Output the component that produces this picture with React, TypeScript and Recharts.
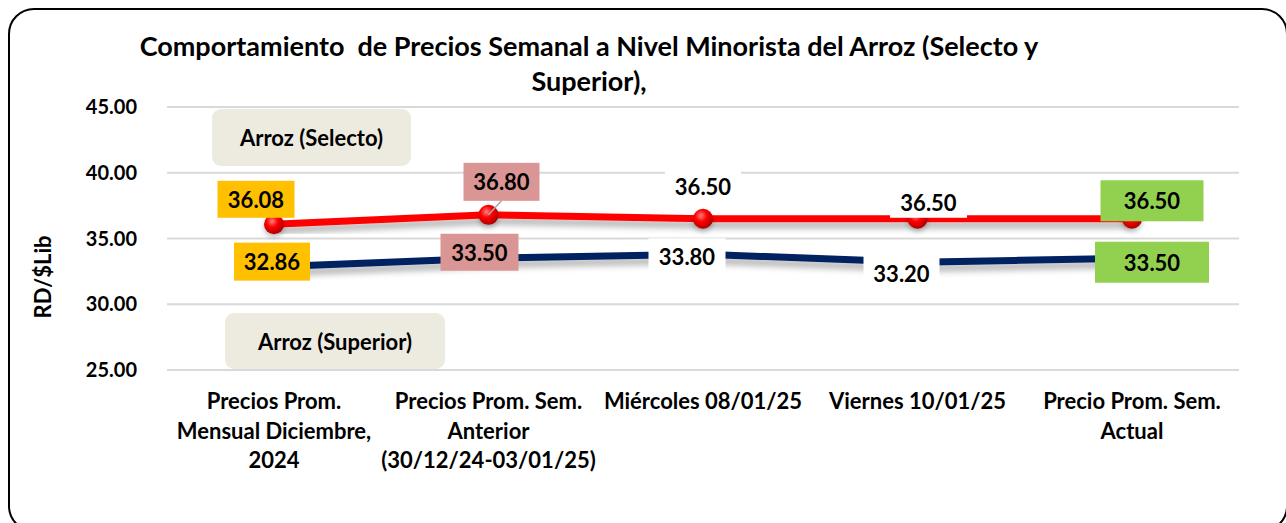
import React from 'react';
import { LineChart, Line, XAxis, YAxis, CartesianGrid, LabelList } from 'recharts';

const categories = [
  'Precios Prom.\nMensual Diciembre,\n2024',
  'Precios Prom. Sem.\nAnterior\n(30/12/24-03/01/25)',
  'Miércoles 08/01/25',
  'Viernes 10/01/25',
  'Precio Prom. Sem.\nActual',
];
const selecto = [36.08, 36.8, 36.5, 36.5, 36.5];
const superior = [32.86, 33.5, 33.8, 33.2, 33.5];
const yTicks = [25, 30, 35, 40, 45];
const titleLines = [
  'Comportamiento  de Precios Semanal a Nivel Minorista del Arroz (Selecto y',
  'Superior),',
];
const seriesNames = ['Arroz (Selecto)', 'Arroz (Superior)'];
const yAxisTitle = 'RD/$Lib';

const data = categories.map((c, i) => ({ cat: c, selecto: selecto[i], superior: superior[i] }));

const FONT = 'Lato, "Open Sans", sans-serif';
const ORANGE = '#FFC000';
const PINK = '#DA9694';
const WHITE = '#FFFFFF';
const GREEN = '#92D050';

type Box = { dx: number; dy: number; w: number; h: number; fill: string; leader?: boolean };

const selectoBoxes: Box[] = [
  { dx: -18, dy: -25, w: 77, h: 37, fill: ORANGE },
  { dx: 13, dy: -33, w: 76, h: 38, fill: PINK, leader: true },
  { dx: 0, dy: -32, w: 76, h: 34, fill: WHITE },
  { dx: 11, dy: -16, w: 77, h: 30, fill: WHITE },
  { dx: 20, dy: -18, w: 103, h: 41, fill: GREEN },
];
const superiorBoxes: Box[] = [
  { dx: -2, dy: -5, w: 76, h: 38, fill: ORANGE },
  { dx: -9, dy: -6, w: 78, h: 37, fill: PINK },
  { dx: -16, dy: 2, w: 77, h: 36, fill: WHITE },
  { dx: -16, dy: 11, w: 76, h: 38, fill: WHITE },
  { dx: 20, dy: 4, w: 114, h: 41, fill: GREEN },
];

const makeLabel = (boxes: Box[]) => (props: any) => {
  const { x, y, value, index } = props;
  const b = boxes[index];
  if (!b || x == null || y == null) return null;
  const cx = x + b.dx;
  const cy = y + b.dy;
  return (
    <g>
      <rect x={cx - b.w / 2} y={cy - b.h / 2} width={b.w} height={b.h} fill={b.fill} />
      {b.leader && (
        <line x1={x} y1={y} x2={cx} y2={cy + b.h / 2} stroke="#A6A6A6" strokeWidth={1.5} />
      )}
      <text
        x={cx}
        y={cy}
        textAnchor="middle"
        dominantBaseline="central"
        fontFamily={FONT}
        fontWeight={700}
        fontSize={22}
        fill="#000"
      >
        {Number(value).toFixed(2)}
      </text>
    </g>
  );
};

const XTick = (props: any) => {
  const { x, y, payload } = props;
  const lines = String(payload.value).split('\n');
  return (
    <g>
      {lines.map((l, i) => (
        <text
          key={i}
          x={x}
          y={y + 39 + i * 29.5}
          textAnchor="middle"
          fontFamily={FONT}
          fontWeight={700}
          fontSize={22}
          fill="#000"
        >
          {l}
        </text>
      ))}
    </g>
  );
};

const SphereDot = (props: any) => {
  const { cx, cy } = props;
  if (cx == null || cy == null) return null;
  return (
    <g>
      <circle cx={cx} cy={cy + 3} r={10} fill="rgba(0,0,0,0.25)" filter="url(#blurShadow)" />
      <circle cx={cx} cy={cy} r={10} fill="url(#redSphere)" />
    </g>
  );
};

if (typeof document !== 'undefined') {
  document.body.style.overflow = 'hidden';
}

const legendBox = (left: number, top: number, w: number, h: number, text: string) => (
  <div
    style={{
      position: 'absolute',
      left,
      top,
      width: w,
      height: h,
      background: '#EDEBE0',
      borderRadius: 9,
      display: 'flex',
      alignItems: 'center',
      justifyContent: 'center',
      fontFamily: FONT,
      fontWeight: 700,
      fontSize: 22,
      color: '#000',
    }}
  >
    {text}
  </div>
);

export default function App() {
  return (
    <div
      style={{
        position: 'fixed',
        left: 0,
        top: 0,
        width: 1286,
        height: 523,
        background: '#fff',
        overflow: 'hidden',
      }}
    >
      <style>{`.sh .recharts-line-curve{filter:url(#lineShadow);}`}</style>
      <svg width={0} height={0} style={{ position: 'absolute' }}>
        <defs>
          <radialGradient id="redSphere" cx="40%" cy="35%" r="65%">
            <stop offset="0%" stopColor="#FF8080" />
            <stop offset="45%" stopColor="#FF0000" />
            <stop offset="100%" stopColor="#B00000" />
          </radialGradient>
          <filter id="lineShadow" x="-5%" y="-100%" width="110%" height="300%">
            <feDropShadow dx="0" dy="6" stdDeviation="3" floodColor="#000" floodOpacity="0.3" />
          </filter>
          <filter id="blurShadow" x="-50%" y="-50%" width="200%" height="200%">
            <feGaussianBlur stdDeviation="2.5" />
          </filter>
        </defs>
      </svg>
      <div
        style={{
          position: 'absolute',
          left: 8,
          top: 8,
          width: 1276,
          height: 520,
          border: '2px solid #000',
          borderRadius: 26,
        }}
      />
      <div style={{ position: 'absolute', left: 0, top: 0 }}>
        <LineChart
          width={1286}
          height={523}
          data={data}
          margin={{ top: 107, right: 47, bottom: 93, left: 0 }}
        >
          <CartesianGrid horizontal vertical={false} stroke="#D9D9D9" strokeWidth={2} />
          <XAxis
            dataKey="cat"
            height={60}
            axisLine={false}
            tickLine={false}
            tickSize={0}
            tickMargin={0}
            interval={0}
            padding={{ left: 107, right: 107 }}
            tick={<XTick />}
          />
          <YAxis
            width={167}
            domain={[25, 45]}
            ticks={yTicks}
            axisLine={false}
            tickLine={false}
            tickSize={0}
            tickMargin={30}
            tickFormatter={(v: number) => v.toFixed(2)}
            tick={{ fill: '#000', fontSize: 20, fontWeight: 700, fontFamily: FONT }}
          />
          <Line
            className="sh"
            dataKey="superior"
            name={seriesNames[1]}
            stroke="#002060"
            strokeWidth={7}
            dot={false}
            activeDot={false}
            isAnimationActive={false}
          >
            <LabelList dataKey="superior" content={makeLabel(superiorBoxes)} />
          </Line>
          <Line
            className="sh"
            dataKey="selecto"
            name={seriesNames[0]}
            stroke="#FF0000"
            strokeWidth={7}
            dot={<SphereDot />}
            activeDot={false}
            isAnimationActive={false}
          >
            <LabelList dataKey="selecto" content={makeLabel(selectoBoxes)} />
          </Line>
        </LineChart>
      </div>
      <div
        style={{
          position: 'absolute',
          left: 89,
          top: 28,
          width: 1000,
          textAlign: 'center',
          fontFamily: FONT,
          fontWeight: 700,
          fontSize: 27,
          lineHeight: '35px',
          whiteSpace: 'pre',
          color: '#000',
        }}
      >
        {titleLines[0]}
        {'\n'}
        {titleLines[1]}
      </div>
      {legendBox(212, 109, 199, 57, seriesNames[0])}
      {legendBox(225, 313, 220, 56, seriesNames[1])}
      <div
        style={{
          position: 'absolute',
          left: 42,
          top: 277,
          transform: 'translate(-50%, -50%) rotate(-90deg)',
          fontFamily: FONT,
          fontWeight: 700,
          fontSize: 22,
          whiteSpace: 'nowrap',
          color: '#000',
        }}
      >
        {yAxisTitle}
      </div>
    </div>
  );
}
